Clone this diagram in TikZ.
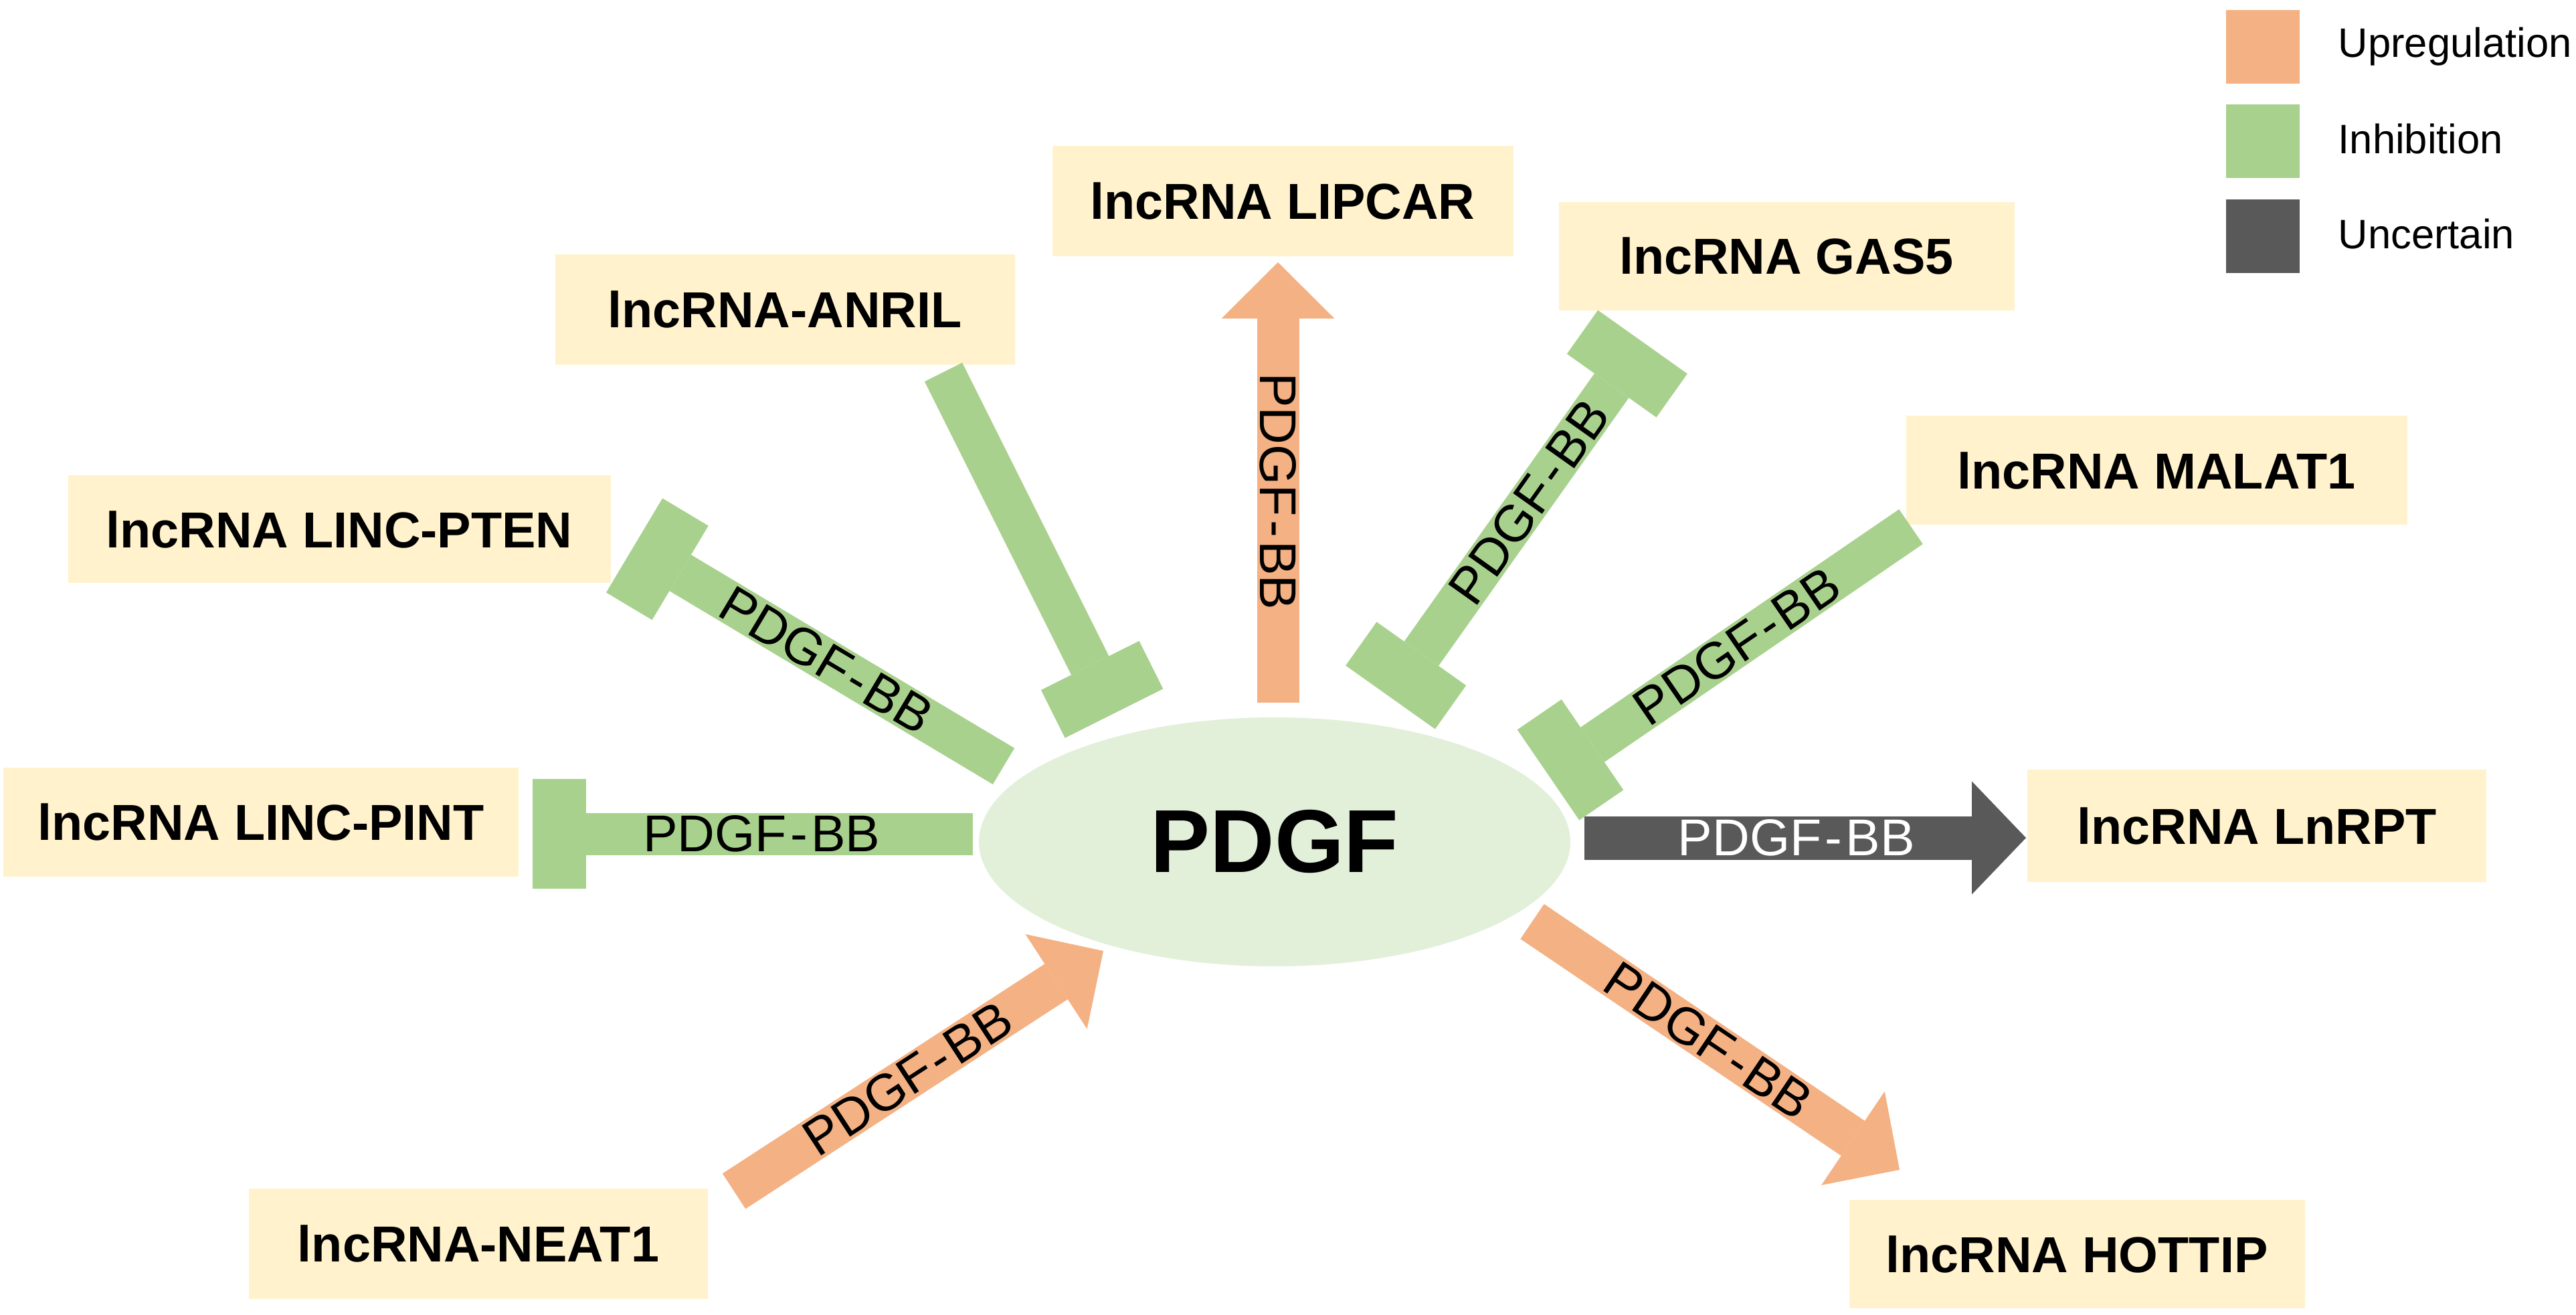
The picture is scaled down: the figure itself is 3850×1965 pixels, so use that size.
\documentclass[tikz,border=0pt]{standalone}
\usepackage{fontspec}
\setmainfont{Liberation Sans}
\usetikzlibrary{arrows.meta,shapes.geometric}

\definecolor{boxfill}{HTML}{FFF2CC}
\definecolor{upcol}{HTML}{F4B183}
\definecolor{inhcol}{HTML}{A9D18E}
\definecolor{unccol}{HTML}{595959}
\definecolor{hubcol}{HTML}{E2F0D9}

\newcommand{\pdgfbb}{PDGF\kern1.5pt-\kern1.5pt BB}

\begin{document}
\begin{tikzpicture}[x=0.1mm,y=-0.1mm,
  lnc/.style={fill=boxfill,minimum height=16.5mm,inner sep=0pt,font=\bfseries\fontsize{21.5}{24}\selectfont},
  lab/.style={inner sep=0pt,font=\fontsize{22}{24}\selectfont},
  key/.style={minimum size=11mm,inner sep=0pt},
  keytext/.style={anchor=west,inner sep=0pt,font=\fontsize{17.5}{20}\selectfont},
  up/.style={draw=upcol,line width=6.3mm,-{Triangle[length=8.4mm,width=16.9mm,line width=0pt]}},
  unc/.style={draw=unccol,line width=6.5mm,-{Triangle[length=8.1mm,width=16.9mm,line width=0pt]}},
  inh/.style={draw=inhcol,line width=6.3mm,-{Rectangle[length=8mm,width=16.4mm,line width=0pt]}},
  inhboth/.style={draw=inhcol,line width=6.3mm,{Rectangle[length=8mm,width=16.4mm,line width=0pt]}-{Rectangle[length=8mm,width=16.4mm,line width=0pt]}}]
\useasboundingbox (0,0) rectangle (3850,1965);

\node[ellipse,fill=hubcol,minimum width=88.4mm,minimum height=37.2mm,inner sep=0pt,font=\bfseries\fontsize{38}{40}\selectfont] (pdgf) at (1905,1258) {PDGF};

\node[lnc,minimum width=68.9mm] (lipcar) at (1917,301) {lncRNA LIPCAR};
\node[lnc,minimum width=68.7mm] (anril) at (1173,463) {lncRNA-ANRIL};
\node[lnc,minimum width=81.1mm,minimum height=16.1mm] (pten) at (507,791) {lncRNA LINC-PTEN};
\node[lnc,minimum width=77mm,minimum height=16.3mm] (pint) at (390,1228) {lncRNA LINC-PINT};
\node[lnc,minimum width=68.6mm] (neat) at (715,1858) {lncRNA-NEAT1};
\node[lnc,minimum width=68.1mm,minimum height=16.2mm] (hottip) at (3104,1874) {lncRNA HOTTIP};
\node[lnc,minimum width=68.6mm,minimum height=16.8mm] (lnrpt) at (3373,1234) {lncRNA LnRPT};
\node[lnc,minimum width=74.9mm,minimum height=16.3mm] (malat) at (3223,703) {lncRNA MALAT1};
\node[lnc,minimum width=68.1mm,minimum height=16.2mm] (gas) at (2670,383) {lncRNA GAS5};

\coordinate (lipcar-s) at (1910,1050);
\coordinate (lipcar-e) at (1910,392);
\coordinate (anril-s) at (1410,556);
\coordinate (anril-e) at (1665,1066);
\coordinate (pten-s) at (1500,1145);
\coordinate (pten-e) at (948,815);
\coordinate (pint-s) at (1454,1246);
\coordinate (pint-e) at (796,1246);
\coordinate (neat-s) at (1097,1780);
\coordinate (neat-e) at (1649,1421);
\coordinate (hottip-s) at (2290,1377);
\coordinate (hottip-e) at (2839,1748);
\coordinate (lnrpt-s) at (2368,1252);
\coordinate (lnrpt-e) at (3028,1252);
\coordinate (malat-s) at (2856,787);
\coordinate (malat-e) at (2314,1158);
\coordinate (gas-s) at (2078,1042);
\coordinate (gas-e) at (2455,511);

\draw[up] (lipcar-s) -- node[lab,pos=0.48,rotate=-90] {\pdgfbb} (lipcar-e);
\draw[inh] (anril-s) -- (anril-e);
\draw[inh] (pten-s) -- node[lab,pos=0.48,sloped] {\pdgfbb} (pten-e);
\draw[inh] (pint-s) -- node[lab,pos=0.48] {\pdgfbb} (pint-e);
\draw[up] (neat-s) -- node[lab,pos=0.47,sloped] {\pdgfbb} (neat-e);
\draw[up] (hottip-s) -- node[lab,pos=0.48,sloped] {\pdgfbb} (hottip-e);
\draw[unc] (lnrpt-s) -- node[lab,pos=0.48,text=white] {\pdgfbb} (lnrpt-e);
\draw[inh] (malat-s) -- node[lab,pos=0.48,sloped] {\pdgfbb} (malat-e);
\draw[inhboth] (gas-s) -- node[lab,pos=0.55,sloped] {\pdgfbb} (gas-e);

\node[key,fill=upcol] (upkey) at (3382,70) {};
\node[key,fill=inhcol] (inhkey) at (3382,211) {};
\node[key,fill=unccol] (unckey) at (3382,353) {};
\node[keytext] (uptext) at (3494,70) {Upregulation};
\node[keytext] (inhtext) at (3494,208) {Inhibition};
\node[keytext] (unctext) at (3494,350) {Uncertain};
\end{tikzpicture}
\end{document}
